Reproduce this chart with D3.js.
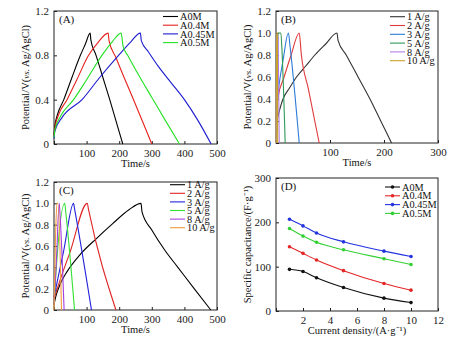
<!DOCTYPE html>
<html>
<head>
<meta charset="utf-8">
<script src="https://cdn.jsdelivr.net/npm/d3@7"></script>
<style>
  body { margin: 0; background: #fff; }
  svg { display: block; font-family: "Liberation Serif", "Times New Roman", serif; }
</style>
</head>
<body>
<svg id="fig" width="474" height="342"></svg>
<script>
// ---- (A) GCD curves of the four samples, [time s, potential V]
var gcdA0M   = [[0,0.08],[3,0.17],[10,0.26],[30,0.4],[55,0.6],[81,0.8],[96,0.9],[111,1.0],[113,0.94],[129,0.8],[150,0.6],[171,0.4],[191,0.2],[211,0]];
var gcdA04M  = [[0,0.07],[3,0.15],[15,0.27],[40,0.4],[70,0.58],[106,0.8],[136,0.92],[166,1.0],[169,0.93],[190,0.78],[215,0.6],[244,0.4],[272,0.2],[300,0]];
var gcdA045M = [[0,0.05],[3,0.12],[25,0.24],[86,0.4],[140,0.6],[198,0.8],[235,0.92],[265,1.0],[268,0.93],[290,0.83],[320,0.7],[360,0.55],[400,0.4],[440,0.22],[482,0]];
var gcdA05M  = [[0,0.06],[3,0.13],[20,0.25],[60,0.4],[100,0.58],[147,0.8],[178,0.92],[206,1.0],[212,0.88],[226,0.8],[260,0.62],[300,0.42],[340,0.22],[385,0]];

// ---- (B) one sample at different current densities
var gcdB1  = [[1,0.19],[5,0.27],[13,0.4],[25,0.5],[38,0.6],[55,0.7],[72,0.8],[92,0.9],[113,1.0],[115,0.93],[130,0.8],[152,0.6],[174,0.4],[194,0.2],[214,0]];
var gcdB2  = [[1,0.3],[4,0.42],[15,0.6],[28,0.8],[43,1.0],[47,0.8],[60,0.49],[80,0]];
var gcdB3  = [[1,0.3],[5,0.5],[13,0.75],[23,1.0],[26,0.88],[43,0]];
var gcdB5  = [[1,0.05],[2,0.6],[4,1.0],[9,1.0],[11,0.85],[17,0]];
var gcdB8  = [[0.5,0],[1,0.5],[2,1.0],[4,0.95],[6,0]];
var gcdB10 = [[0.3,0],[1,1.0],[2.5,1.0],[3,0]];

// ---- (C) another sample at different current densities
var gcdC1  = [[0,0.05],[5,0.12],[20,0.25],[40,0.36],[80,0.52],[130,0.67],[180,0.81],[230,0.94],[267,1.0],[270,0.92],[300,0.75],[340,0.56],[380,0.4],[430,0.2],[481,0]];
var gcdC2  = [[0,0.1],[10,0.2],[50,0.55],[102,1.0],[106,0.94],[190,0]];
var gcdC3  = [[0,0.12],[30,0.56],[60,1.0],[63,0.95],[115,0]];
var gcdC5  = [[0,0.05],[6,0.35],[33,1.0],[36,0.92],[63,0]];
var gcdC8  = [[0,0.05],[8,0.5],[16,1.0],[18,0.92],[31,0]];
var gcdC10 = [[0,0],[4,0.6],[9,1.0],[12,1.0],[23,0]];

// ---- (D) specific capacitance vs current density
var density   = [1, 2, 3, 5, 8, 10];
var capA0M    = [94, 89, 75, 53, 29, 19];
var capA04M   = [145, 130, 115, 91, 62, 47];
var capA045M  = [207, 192, 176, 156, 135, 123];
var capA05M   = [186, 169, 155, 138, 118, 105];

var sampleNames = ["A0M", "A0.4M", "A0.45M", "A0.5M"];
var rateNames = ["1 A/g", "2 A/g", "3 A/g", "5 A/g", "8 A/g", "10 A/g"];

var svg = d3.select("#fig");

// draws one framed panel with inward ticks
function drawPanel(p) {
    var x = d3.scaleLinear().domain(p.xDomain).range([p.left, p.right]);
    var y = d3.scaleLinear().domain(p.yDomain).range([p.bottom, p.top]);
    var g = svg.append("g");

    var xAxis = d3.axisBottom(x).tickValues(p.xTicks).tickSizeInner(-3).tickSizeOuter(0).tickPadding(5)
        .tickFormat(function(d){ return d === 0 ? "" : d; });
    var yAxis = d3.axisLeft(y).tickValues(p.yTicks).tickSizeInner(-3).tickSizeOuter(0).tickPadding(5)
        .tickFormat(p.yFormat);

    g.append("g").attr("transform", "translate(0," + p.bottom + ")").call(xAxis);
    g.append("g").attr("transform", "translate(" + p.left + ",0)").call(yAxis);
    g.selectAll(".domain").remove();
    g.selectAll(".tick line").attr("stroke", "#222");
    g.selectAll(".tick text").attr("font-size", 11).attr("fill", "#222")
        .attr("font-family", "Liberation Serif");

    g.append("rect")
        .attr("x", p.left).attr("y", p.top)
        .attr("width", p.right - p.left).attr("height", p.bottom - p.top)
        .attr("fill", "none").attr("stroke", "#222").attr("stroke-width", 1);

    // panel letter
    g.append("text").attr("x", p.left + 5).attr("y", p.top + 12)
        .attr("font-size", 11).attr("fill", "#111").text(p.letter);

    // x title
    g.append("text").attr("x", (p.left + p.right) / 2).attr("y", p.bottom + 23)
        .attr("text-anchor", "middle").attr("font-size", 10.5).attr("fill", "#111")
        .text(p.xTitle);

    // y title
    var yt = g.append("text")
        .attr("transform", "translate(" + (p.left - 25) + "," + ((p.top + p.bottom) / 2) + ") rotate(-90)")
        .attr("text-anchor", "middle").attr("font-size", 10.5).attr("fill", "#111");
    p.yTitle(yt);

    return {x: x, y: y, g: g};
}

function drawLegend(g, names, colors, lx, ly, step, markers) {
    names.forEach(function(n, i) {
        var yy = ly + i * step;
        g.append("line").attr("x1", lx).attr("x2", lx + 15).attr("y1", yy).attr("y2", yy)
            .attr("stroke", colors[i]).attr("stroke-width", 1.1);
        if (markers) {
            g.append("circle").attr("cx", lx + 7.5).attr("cy", yy).attr("r", 1.8).attr("fill", colors[i]);
        }
        g.append("text").attr("x", lx + 17).attr("y", yy).attr("dy", "0.35em")
            .attr("font-size", 10.3).attr("fill", "#111").text(n);
    });
}

function potentialTitle(t) {
    t.append("tspan").text("Potential/V(");
    t.append("tspan").attr("font-style", "italic").attr("font-size", 9).text("vs.");
    t.append("tspan").text(" Ag/AgCl)");
}

function drawCurves(ax, series, colors) {
    var line = d3.line()
        .x(function(d){ return ax.x(d[0]); })
        .y(function(d){ return ax.y(d[1]); })
        .curve(d3.curveMonotoneX);
    series.forEach(function(s, i) {
        ax.g.append("path").datum(s).attr("d", line)
            .attr("fill", "none").attr("stroke", colors[i]).attr("stroke-width", 1.1);
    });
}

// (A)
var colA = ["#000000", "#e6201c", "#1c1ccf", "#22e022"];
var pa = drawPanel({
    left: 54, right: 217, top: 11, bottom: 144,
    xDomain: [0, 500], yDomain: [0, 1.2],
    xTicks: [0, 100, 200, 300, 400, 500], yTicks: [0, 0.4, 0.8, 1.2],
    yFormat: function(d){ return d === 0 ? "0" : d3.format(".1f")(d); },
    letter: "(A)", xTitle: "Time/s", yTitle: potentialTitle
});
drawCurves(pa, [gcdA0M, gcdA04M, gcdA045M, gcdA05M], colA);
drawLegend(pa.g, sampleNames, colA, 163, 16.5, 8.7, false);

// (B)
var colB = ["#333333", "#e0393b", "#2a7bd4", "#2d9a56", "#b07ee6", "#c9a227"];
var pb = drawPanel({
    left: 276, right: 438, top: 11, bottom: 143,
    xDomain: [0, 300], yDomain: [0, 1.2],
    xTicks: [0, 100, 200, 300], yTicks: [0, 0.2, 0.4, 0.6, 0.8, 1.0, 1.2],
    yFormat: function(d){ return d === 0 ? "0" : d3.format(".1f")(d); },
    letter: "(B)", xTitle: "Time/s", yTitle: potentialTitle
});
drawCurves(pb, [gcdB1, gcdB2, gcdB3, gcdB5, gcdB8, gcdB10], colB);
drawLegend(pb.g, rateNames, colB, 390, 16.7, 8.8, false);

// (C)
var colC = ["#000000", "#e02424", "#2222dd", "#33e033", "#a63fe0", "#f29a3a"];
var pc = drawPanel({
    left: 54, right: 217, top: 182, bottom: 310,
    xDomain: [0, 500], yDomain: [0, 1.2],
    xTicks: [0, 100, 200, 300, 400, 500], yTicks: [0, 0.2, 0.4, 0.6, 0.8, 1.0, 1.2],
    yFormat: function(d){ return d === 0 ? "0" : d3.format(".1f")(d); },
    letter: "(C)", xTitle: "Time/s", yTitle: potentialTitle
});
drawCurves(pc, [gcdC1, gcdC2, gcdC3, gcdC5, gcdC8, gcdC10], colC);
drawLegend(pc.g, rateNames, colC, 170, 184.7, 8.6, false);

// (D)
var colD = ["#111111", "#e42626", "#2233e0", "#33d033"];
var pd = drawPanel({
    left: 276, right: 438, top: 178, bottom: 311,
    xDomain: [0, 12], yDomain: [0, 300],
    xTicks: [0, 2, 4, 6, 8, 10, 12], yTicks: [0, 100, 200, 300],
    yFormat: function(d){ return d; },
    letter: "(D)", xTitle: "Current density/(A·g⁻¹)",
    yTitle: function(t){ t.text("Specific capacitance/(F·g⁻¹)"); }
});
var capLine = d3.line()
    .x(function(d){ return pd.x(d[0]); })
    .y(function(d){ return pd.y(d[1]); })
    .curve(d3.curveMonotoneX);
[capA0M, capA04M, capA045M, capA05M].forEach(function(vals, i) {
    var pts = density.map(function(c, k){ return [c, vals[k]]; });
    pd.g.append("path").datum(pts).attr("d", capLine)
        .attr("fill", "none").attr("stroke", colD[i]).attr("stroke-width", 1.1);
    pd.g.selectAll(null).data(pts).enter().append("circle")
        .attr("cx", function(d){ return pd.x(d[0]); })
        .attr("cy", function(d){ return pd.y(d[1]); })
        .attr("r", 1.8).attr("fill", colD[i]);
});
drawLegend(pd.g, sampleNames, colD, 385, 187, 8.8, true);
</script>
</body>
</html>
